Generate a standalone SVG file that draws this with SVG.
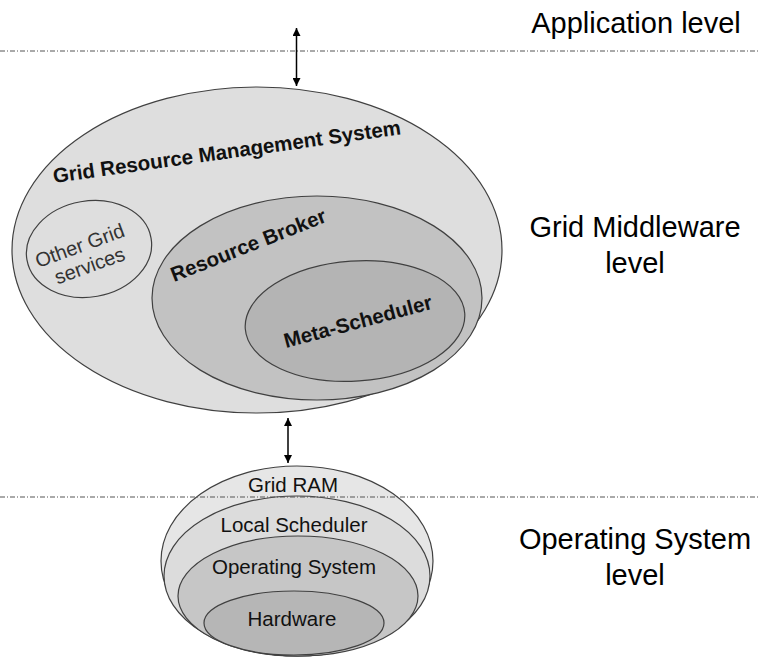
<svg xmlns="http://www.w3.org/2000/svg" width="759" height="659" viewBox="0 0 759 659">
<defs>
<marker id="ah" viewBox="0 0 10 10" refX="10" refY="5" markerWidth="8" markerHeight="8" markerUnits="userSpaceOnUse" orient="auto-start-reverse">
<path d="M0,0 L10,5 L0,10 z" fill="#000"/>
</marker>
<style>
.e{stroke:#404040;stroke-width:1.2}
.lvl{font-family:"Liberation Sans",Arial,sans-serif;font-size:29px;fill:#000;text-anchor:middle}
.b{font-family:"Liberation Sans",Arial,sans-serif;font-size:20.5px;font-weight:bold;fill:#111}
.r{font-family:"Liberation Sans",Arial,sans-serif;font-size:20.5px;fill:#111;text-anchor:middle}
.o{font-family:"Liberation Sans",Arial,sans-serif;font-size:20px;fill:#333;text-anchor:middle}
.dash{stroke:#555;stroke-width:1;stroke-dasharray:5 2 1 2;fill:none}
.arr{stroke:#000;stroke-width:1.5;fill:none}
</style>
</defs>
<rect width="759" height="659" fill="#fff"/>
<g id="levels">
<line class="dash" x1="0" y1="51" x2="759" y2="51"/>
<text class="lvl" x="636" y="33">Application level</text>
<text class="lvl" x="635" y="237">Grid Middleware</text>
<text class="lvl" x="635" y="273">level</text>
<text class="lvl" x="635" y="549">Operating System</text>
<text class="lvl" x="635" y="585">level</text>
</g>
<g id="grms">
<ellipse class="e" cx="257" cy="250" rx="245" ry="163" fill="#dedede"/>
<text class="b" transform="translate(54,183) rotate(-8)">Grid Resource Management System</text>
</g>
<g id="other">
<ellipse class="e" cx="89" cy="249" rx="63" ry="48" fill="#dedede" transform="rotate(-10 89 249)"/>
<text class="o" transform="translate(82,252) rotate(-20)">Other Grid</text>
<text class="o" transform="translate(92,272) rotate(-20)">services</text>
</g>
<g id="broker">
<ellipse class="e" cx="317" cy="298" rx="165" ry="102" fill="#c2c2c2"/>
<text class="b" transform="translate(174,282) rotate(-21.5)">Resource Broker</text>
</g>
<g id="meta">
<ellipse class="e" cx="355" cy="321" rx="110" ry="60" fill="#b4b4b4" transform="rotate(-4 355 321)"/>
<text class="b" transform="translate(286,348) rotate(-15)">Meta-Scheduler</text>
</g>
<g id="gridram">
<ellipse class="e" cx="297" cy="561" rx="136" ry="95" fill="#e6e6e6"/>
<text class="r" x="293" y="492">Grid RAM</text>
</g>
<g id="localsched">
<ellipse class="e" cx="297" cy="576" rx="133" ry="80" fill="#dcdcdc"/>
<text class="r" x="294" y="532">Local Scheduler</text>
</g>
<g id="os">
<ellipse class="e" cx="298" cy="596" rx="120" ry="60" fill="#c6c6c6"/>
<text class="r" x="294" y="574">Operating System</text>
</g>
<g id="hw">
<ellipse class="e" cx="294" cy="623" rx="90" ry="32" fill="#b6b6b6"/>
<text class="r" x="292" y="626">Hardware</text>
</g>
<g id="connectors">
<line class="arr" x1="296.5" y1="28" x2="296.5" y2="86" marker-start="url(#ah)" marker-end="url(#ah)"/>
<line class="arr" x1="288" y1="418" x2="288" y2="463" marker-start="url(#ah)" marker-end="url(#ah)"/>
<line class="dash" x1="0" y1="497" x2="759" y2="497"/>
</g>
</svg>
